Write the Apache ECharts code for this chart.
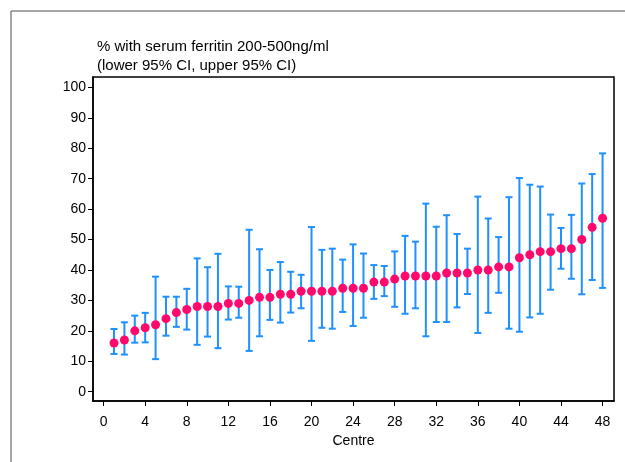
<!DOCTYPE html>
<html>
<head>
<meta charset="utf-8">
<script src="https://cdn.jsdelivr.net/npm/echarts@6/dist/echarts.min.js"></script>
<style>
html,body{margin:0;padding:0;background:#fff;}
#chart{width:625px;height:462px;}
</style>
</head>
<body>
<div id="chart"></div>
<script>
const centres = Array.from({length:48},(_,i)=>i+1);
const percent = [16,17,20,21,22,24,26,27,28,28,28,29,29,30,31,31,32,32,33,33,33,33,34,34,34,36,36,37,38,38,38,38,39,39,39,40,40,41,41,44,45,46,46,47,47,50,54,57];
const lowerCI = [12.4,12.2,16.1,16.2,10.7,18.4,21.3,20.4,15.4,18.1,14.3,23.7,24.3,13.4,18.2,23.6,22.7,26.0,27.4,16.7,21.0,20.7,26.2,21.6,24.3,30.5,31.4,27.9,25.6,27.4,18.2,22.9,22.9,27.7,32.1,19.3,25.9,32.5,20.7,19.7,24.4,25.6,33.5,40.4,37.1,32.0,36.7,34.1];
const upperCI = [20.6,22.8,25.0,25.9,37.8,31.2,31.2,33.8,43.8,40.9,45.3,34.6,34.5,53.2,46.8,40.0,42.6,39.4,38.4,54.1,46.6,47.0,43.4,48.4,45.4,41.6,41.3,46.1,51.2,49.3,61.8,54.2,58.0,51.8,47.0,64.1,56.9,50.8,63.9,70.2,68.0,67.4,58.2,53.8,58.1,68.4,71.5,78.3];
const xTicks = [0,4,8,12,16,20,24,28,32,36,40,44,48];
const yTicks = [0,10,20,30,40,50,60,70,80,90,100];
const titleLines = ['% with serum ferritin 200-500ng/ml','(lower 95% CI, upper 95% CI)'];
const xName = 'Centre';

const FONT = 'Liberation Sans, Arial, sans-serif';
const chart = echarts.init(document.getElementById('chart'), null, {renderer:'canvas'});

const errData = centres.map((c,i)=>[c, lowerCI[i], upperCI[i]]);
const ptData = centres.map((c,i)=>[c, percent[i]]);

chart.setOption({
  animation:false,
  backgroundColor:'#fff',
  graphic:[
    {type:'line', shape:{x1:11,y1:11,x2:625,y2:11}, style:{stroke:'#888',lineWidth:1.5}},
    {type:'line', shape:{x1:11,y1:11,x2:11,y2:462}, style:{stroke:'#888',lineWidth:1.5}},
    {type:'text', left:97, top:39, style:{text:titleLines[0], font:'15px '+FONT, fill:'#000'}},
    {type:'text', left:97, top:58, style:{text:titleLines[1], font:'15px '+FONT, fill:'#000'}}
  ],
  grid:{left:93, right:11, top:77, bottom:61, show:true, borderColor:'#000', borderWidth:1.5, containLabel:false},
  xAxis:{
    type:'value', min:-1.02, max:49.1,
    name:xName, nameLocation:'middle', nameGap:29,
    nameTextStyle:{fontFamily:FONT, fontSize:14, color:'#000'},
    axisLine:{show:true, onZero:false, lineStyle:{color:'#000', width:1.5}},
    axisTick:{show:true, length:5, lineStyle:{color:'#000'}, customValues:xTicks},
    axisLabel:{fontFamily:FONT, fontSize:14, color:'#000', margin:14, customValues:xTicks},
    splitLine:{show:false}
  },
  yAxis:{
    type:'value', min:-3.06, max:103.4,
    axisLine:{show:true, onZero:false, lineStyle:{color:'#000', width:1.5}},
    axisTick:{show:true, length:5, lineStyle:{color:'#000'}, customValues:yTicks},
    axisLabel:{fontFamily:FONT, fontSize:14, color:'#000', margin:7, customValues:yTicks},
    splitLine:{show:false}
  },
  series:[
    {
      type:'custom',
      data:errData,
      renderItem:function(params, api){
        const x = api.value(0);
        const lo = api.coord([x, api.value(1)]);
        const hi = api.coord([x, api.value(2)]);
        const hw = 3.5;
        const st = {stroke:'#1e90ff', lineWidth:2};
        return {type:'group', children:[
          {type:'line', shape:{x1:lo[0],y1:lo[1],x2:hi[0],y2:hi[1]}, style:st},
          {type:'line', shape:{x1:lo[0]-hw,y1:lo[1],x2:lo[0]+hw,y2:lo[1]}, style:st},
          {type:'line', shape:{x1:hi[0]-hw,y1:hi[1],x2:hi[0]+hw,y2:hi[1]}, style:st}
        ]};
      },
      z:2
    },
    {
      type:'scatter',
      data:ptData,
      symbol:'circle',
      symbolSize:9,
      itemStyle:{color:'#ff0a6c', opacity:1},
      z:3
    }
  ]
});
</script>
</body>
</html>
